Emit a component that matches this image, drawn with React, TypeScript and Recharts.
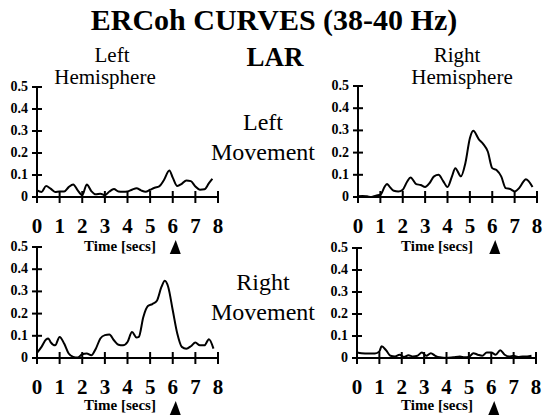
import { LineChart, Line, XAxis, YAxis } from "recharts";

const serif = "Liberation Serif, DejaVu Serif, serif";

const xTicks = [0, 1, 2, 3, 4, 5, 6, 7, 8];
const yTicks = [0, 0.1, 0.2, 0.3, 0.4, 0.5];

// Left hemisphere, left movement
const tlTime = [0, 0.2, 0.4, 0.6, 0.8, 1.0, 1.2, 1.4, 1.6, 1.8, 2.0, 2.2, 2.4, 2.6, 2.8, 3.0, 3.2, 3.4, 3.6, 3.8, 4.0, 4.2, 4.4, 4.6, 4.8, 5.0, 5.2, 5.4, 5.6, 5.85, 6.0, 6.2, 6.4, 6.6, 6.8, 7.0, 7.2, 7.4, 7.6, 7.75];
const tlValues = [0.03, 0.023, 0.05, 0.038, 0.023, 0.025, 0.025, 0.045, 0.057, 0.03, 0.008, 0.057, 0.027, 0.012, 0.015, 0.008, 0.025, 0.036, 0.025, 0.024, 0.025, 0.033, 0.04, 0.03, 0.024, 0.033, 0.042, 0.048, 0.075, 0.12, 0.088, 0.05, 0.06, 0.075, 0.072, 0.048, 0.033, 0.035, 0.063, 0.083];

// Right hemisphere, left movement
const trTime = [0, 0.2, 0.4, 0.6, 0.8, 1.0, 1.2, 1.3, 1.4, 1.6, 1.8, 2.0, 2.2, 2.35, 2.6, 2.8, 3.0, 3.2, 3.4, 3.6, 3.8, 4.0, 4.2, 4.35, 4.6, 4.8, 5.0, 5.15, 5.4, 5.6, 5.8, 6.0, 6.2, 6.4, 6.6, 6.8, 7.0, 7.2, 7.4, 7.5, 7.8];
const trValues = [0.003, 0.005, 0.003, 0, 0.006, 0.01, 0.048, 0.058, 0.048, 0.028, 0.025, 0.033, 0.07, 0.088, 0.058, 0.054, 0.045, 0.063, 0.093, 0.1, 0.073, 0.045, 0.093, 0.13, 0.093, 0.153, 0.265, 0.298, 0.26, 0.238, 0.205, 0.13, 0.12, 0.093, 0.04, 0.036, 0.025, 0.04, 0.07, 0.08, 0.045];

// Left hemisphere, right movement
const blTime = [0, 0.2, 0.4, 0.5, 0.6, 0.8, 1.0, 1.2, 1.4, 1.6, 1.8, 2.0, 2.2, 2.4, 2.6, 2.8, 3.0, 3.2, 3.4, 3.6, 3.8, 4.0, 4.2, 4.4, 4.5, 4.7, 4.9, 5.1, 5.3, 5.5, 5.65, 5.8, 6.0, 6.2, 6.4, 6.6, 6.8, 7.0, 7.2, 7.4, 7.6, 7.8];
const blValues = [0.023, 0.05, 0.083, 0.088, 0.072, 0.057, 0.095, 0.065, 0.02, 0.005, 0.002, 0.017, 0.02, 0.012, 0.042, 0.088, 0.103, 0.106, 0.08, 0.06, 0.057, 0.072, 0.117, 0.092, 0.095, 0.185, 0.234, 0.243, 0.258, 0.32, 0.348, 0.32, 0.215, 0.11, 0.05, 0.042, 0.053, 0.07, 0.057, 0.057, 0.085, 0.042];

// Right hemisphere, right movement
const brTime = [0, 0.2, 0.5, 0.8, 1.0, 1.1, 1.3, 1.5, 1.7, 1.9, 2.1, 2.3, 2.5, 2.7, 2.9, 3.1, 3.3, 3.5, 3.7, 4.0, 4.3, 4.6, 4.8, 5.0, 5.2, 5.4, 5.6, 5.8, 6.0, 6.2, 6.4, 6.6, 6.8, 7.0, 7.2, 7.4, 7.6, 7.8];
const brValues = [0.025, 0.022, 0.02, 0.02, 0.03, 0.053, 0.035, 0.01, 0.007, 0.015, 0.005, 0.013, 0.007, 0.01, 0.025, 0.01, 0.022, 0.01, 0.003, 0, 0.003, 0.007, 0.003, 0.005, 0.022, 0.015, 0.01, 0.025, 0.025, 0.015, 0.035, 0.015, 0.007, 0.01, 0.005, 0.007, 0.007, 0.01];

const toRows = (times: number[], values: number[]) =>
  times.map((t, i) => ({ t, v: values[i] }));

const XTick = (props: any) => {
  const { x, y, payload } = props;
  return (
    <g>
      <line x1={x} x2={x} y1={y - 6} y2={y + 6} stroke="#000" strokeWidth={2} />
      <text
        x={x}
        y={y + 36}
        textAnchor="middle"
        style={{ fontFamily: serif, fontSize: 21, fontWeight: "bold" }}
        fill="#000"
      >
        {payload.value}
      </text>
      {payload.value === 6 && (
        <polygon
          points={`${x - 3},${y + 57} ${x + 8},${y + 57} ${x + 3},${y + 43}`}
          fill="#000"
        />
      )}
    </g>
  );
};

const YTick = (props: any) => {
  const { x, y, payload } = props;
  const label = payload.value === 0 ? "0" : payload.value.toFixed(1);
  return (
    <g>
      <line x1={x - 5} x2={x + 5} y1={y} y2={y} stroke="#000" strokeWidth={2} />
      <text
        x={x - 9}
        y={y}
        dy={4}
        textAnchor="end"
        style={{ fontFamily: serif, fontSize: 14, fontWeight: "bold" }}
        fill="#000"
      >
        {label}
      </text>
    </g>
  );
};

interface PanelProps {
  rows: { t: number; v: number }[];
  left: number;
  top: number;
  width: number;
  height: number;
  marginTop: number;
  marginRight: number;
  yWidth: number;
  xHeight: number;
}

const Panel = ({ rows, left, top, width, height, marginTop, marginRight, yWidth, xHeight }: PanelProps) => (
  <div style={{ position: "absolute", left, top }}>
    <LineChart
      width={width}
      height={height}
      data={rows}
      margin={{ top: marginTop, right: marginRight, bottom: 0, left: 0 }}
    >
      <XAxis
        dataKey="t"
        type="number"
        domain={[0, 8]}
        ticks={xTicks}
        interval={0}
        height={xHeight}
        axisLine={{ stroke: "#000", strokeWidth: 2 }}
        tickLine={false}
        tickSize={0}
        tickMargin={0}
        tick={(p: any) => <XTick {...p} />}
      />
      <YAxis
        type="number"
        domain={[0, 0.5]}
        ticks={yTicks}
        interval={0}
        width={yWidth}
        axisLine={{ stroke: "#000", strokeWidth: 2 }}
        tickLine={false}
        tickSize={0}
        tickMargin={0}
        tick={(p: any) => <YTick {...p} />}
      />
      <Line
        type="monotone"
        dataKey="v"
        stroke="#000"
        strokeWidth={2}
        dot={false}
        isAnimationActive={false}
      />
    </LineChart>
  </div>
);

const Label = ({ x, y, size, bold, children }: any) => (
  <text
    x={x}
    y={y}
    textAnchor="middle"
    style={{ fontFamily: serif, fontSize: size, fontWeight: bold ? "bold" : "normal" }}
    fill="#000"
  >
    {children}
  </text>
);

export default function App() {
  return (
    <div
      style={{
        position: "absolute",
        left: 0,
        top: 0,
        width: 543,
        height: 417,
        background: "#fff",
        overflow: "hidden",
        fontFamily: serif,
      }}
    >
      <Panel rows={toRows(tlTime, tlValues)} left={0} top={74} width={230} height={186} marginTop={13} marginRight={12} yWidth={37} xHeight={63} />
      <Panel rows={toRows(trTime, trValues)} left={320} top={74} width={223} height={186} marginTop={12} marginRight={6} yWidth={38} xHeight={63} />
      <Panel rows={toRows(blTime, blValues)} left={0} top={236} width={230} height={181} marginTop={11} marginRight={12} yWidth={37} xHeight={59} />
      <Panel rows={toRows(brTime, brValues)} left={320} top={236} width={223} height={181} marginTop={12} marginRight={7} yWidth={37} xHeight={59} />

      <svg
        width={543}
        height={417}
        style={{ position: "absolute", left: 0, top: 0, pointerEvents: "none" }}
      >
        <Label x={274} y={30} size={30} bold>ERCoh CURVES (38-40 Hz)</Label>
        <Label x={275} y={66} size={27} bold>LAR</Label>
        <Label x={112} y={62} size={21}>Left</Label>
        <Label x={105} y={84} size={21}>Hemisphere</Label>
        <Label x={457} y={62} size={21}>Right</Label>
        <Label x={462} y={84} size={21}>Hemisphere</Label>
        <Label x={263} y={130} size={24}>Left</Label>
        <Label x={263} y={160} size={24}>Movement</Label>
        <Label x={263} y={290} size={24}>Right</Label>
        <Label x={263} y={320} size={24}>Movement</Label>
        <Label x={120} y={251} size={15} bold>Time [secs]</Label>
        <Label x={437} y={251} size={15} bold>Time [secs]</Label>
        <Label x={120} y={410} size={15} bold>Time [secs]</Label>
        <Label x={437} y={410} size={15} bold>Time [secs]</Label>
      </svg>
    </div>
  );
}
